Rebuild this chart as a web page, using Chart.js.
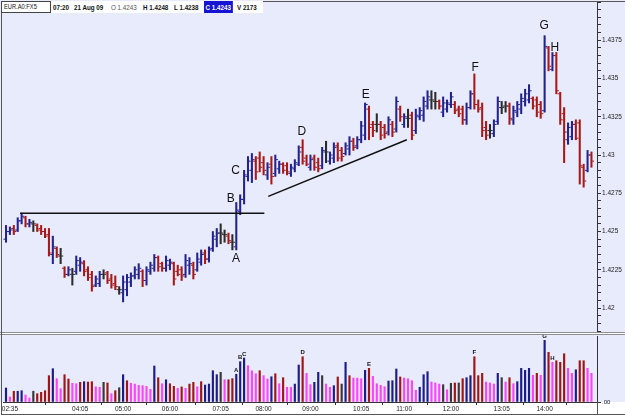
<!DOCTYPE html>
<html>
<head>
<meta charset="utf-8">
<script src="https://cdn.jsdelivr.net/npm/chart.js@4.4.1/dist/chart.umd.min.js"></script>
<style>
  html, body { margin: 0; padding: 0; background: #fff; }
  #wrap { position: relative; width: 625px; height: 416px; overflow: hidden; }
  #priceCanvas { position: absolute; left: 0; top: 0; background: #e8ebfb; }
  #volCanvas { position: absolute; left: 0; top: 335px; background: linear-gradient(#e8ebfb 0, #e8ebfb 67px, #fff 67px); }
  .sep { position: absolute; left: 0; width: 625px; height: 1px; background: #8e8e8e; }
  .frame { position: absolute; background: #555; }
  .hdrbg { position: absolute; left: 1px; top: 1px; width: 262px; height: 12px; background: #fff; }
  .sym { position: absolute; left: 1px; top: 1px; width: 48px; height: 10px; border: 1px solid #444; background: #fff; }
  .sym span { position: absolute; left: 2px; top: 0; font: 7px/10px "Liberation Sans", sans-serif; color: #111;
              white-space: nowrap; transform: scaleX(0.82); transform-origin: left center; }
  .ht { position: absolute; top: 3px; font: 8px/9px "Liberation Sans", sans-serif; color: #111; white-space: nowrap;
        transform: scaleX(0.78); transform-origin: left center; }
  .b { font-weight: bold; }
  .n { color: #555; }
  .cl { background: #1414d2; color: #fff; top: 1px; padding: 2px 3px 1px 2px; }
</style>
</head>
<body>
<div id="wrap">
  <canvas id="priceCanvas" width="625" height="332"></canvas>
  <div class="sep" style="top:332px"></div>
  <div class="sep" style="top:334px"></div>
  <canvas id="volCanvas" width="625" height="81"></canvas>
  <div class="frame" style="left:1px; top:1px; width:1px; height:414px"></div>
  <div class="frame" style="left:1px; top:1px; width:624px; height:1px"></div>
  <div class="frame" style="left:1px; top:414px; width:624px; height:1px"></div>
  <div class="frame" style="left:597px; top:402px; width:1px; height:12px"></div>
  <div class="hdrbg"></div>
  <div class="sym"><span>EUR.A0:FX5</span></div>
  <div id="hdr"></div>
</div>
<script>
// 5-minute bars, 02:30 .. 15:00
const times = [];
for (let m = 150; m <= 900; m += 5) {
    times.push(String(Math.floor(m / 60)).padStart(2, '0') + ':' + String(m % 60).padStart(2, '0'));
}

const opens = [1.4245,1.4250,1.4252,1.4251,1.4257,1.4259,1.4255,1.4255,1.4254,1.4252,
1.4250,1.4248,1.4235,1.4239,1.4234,1.4226,1.4222,1.4222,1.4224,1.4228,
1.4229,1.4225,1.4222,1.4215,1.4216,1.4222,1.4223,1.4219,1.4216,1.4212,
1.4210,1.4212,1.4217,1.4221,1.4222,1.4224,1.4218,1.4224,1.4226,1.4233,
1.4229,1.4226,1.4228,1.4229,1.4224,1.4225,1.4222,1.4228,1.4228,1.4225,
1.4230,1.4236,1.4232,1.4239,1.4245,1.4249,1.4248,1.4247,1.4243,1.4240,
1.4263,1.4271,1.4286,1.4290,1.4296,1.4298,1.4295,1.4287,1.4294,1.4288,
1.4291,1.4294,1.4293,1.4288,1.4291,1.4294,1.4305,1.4298,1.4292,1.4298,
1.4295,1.4293,1.4302,1.4296,1.4298,1.4306,1.4303,1.4301,1.4304,1.4309,
1.4306,1.4310,1.4313,1.4330,1.4320,1.4320,1.4320,1.4318,1.4315,1.4320,
1.4317,1.4330,1.4320,1.4324,1.4326,1.4316,1.4325,1.4326,1.4332,1.4336,
1.4335,1.4335,1.4328,1.4330,1.4333,1.4333,1.4330,1.4330,1.4323,1.4331,
1.4340,1.4333,1.4331,1.4318,1.4316,1.4314,1.4322,1.4331,1.4332,1.4332,
1.4323,1.4328,1.4330,1.4335,1.4336,1.4337,1.4336,1.4333,1.4329,1.4370,
1.4356,1.4365,1.4340,1.4327,1.4310,1.4312,1.4320,1.4321,1.4292,1.4290,
1.4300];

const highs = [1.4254,1.4253,1.4254,1.4259,1.4262,1.4260,1.4258,1.4257,1.4255,1.4254,
1.4252,1.4252,1.4247,1.4240,1.4239,1.4227,1.4227,1.4226,1.4234,1.4233,
1.4231,1.4227,1.4224,1.4221,1.4224,1.4225,1.4224,1.4222,1.4221,1.4214,
1.4221,1.4222,1.4223,1.4227,1.4229,1.4225,1.4227,1.4230,1.4235,1.4234,
1.4230,1.4234,1.4232,1.4230,1.4228,1.4227,1.4235,1.4233,1.4230,1.4236,
1.4238,1.4238,1.4240,1.4250,1.4252,1.4255,1.4251,1.4249,1.4248,1.4269,
1.4274,1.4290,1.4299,1.4301,1.4299,1.4302,1.4299,1.4295,1.4299,1.4300,
1.4296,1.4295,1.4295,1.4294,1.4297,1.4306,1.4310,1.4300,1.4300,1.4300,
1.4298,1.4305,1.4309,1.4302,1.4308,1.4308,1.4305,1.4308,1.4312,1.4311,
1.4312,1.4322,1.4334,1.4332,1.4322,1.4327,1.4322,1.4320,1.4325,1.4322,
1.4338,1.4332,1.4327,1.4330,1.4328,1.4330,1.4331,1.4338,1.4342,1.4342,
1.4341,1.4336,1.4338,1.4336,1.4341,1.4335,1.4332,1.4332,1.4334,1.4342,
1.4353,1.4336,1.4334,1.4322,1.4320,1.4323,1.4338,1.4335,1.4335,1.4334,
1.4332,1.4335,1.4340,1.4343,1.4346,1.4338,1.4338,1.4335,1.4378,1.4371,
1.4367,1.4367,1.4341,1.4331,1.4321,1.4322,1.4323,1.4323,1.4294,1.4303,
1.4302];

const lows = [1.4243,1.4248,1.4248,1.4250,1.4255,1.4253,1.4253,1.4250,1.4250,1.4248,
1.4246,1.4234,1.4229,1.4233,1.4229,1.4220,1.4221,1.4215,1.4222,1.4224,
1.4221,1.4218,1.4211,1.4214,1.4214,1.4219,1.4216,1.4213,1.4212,1.4209,
1.4204,1.4208,1.4214,1.4219,1.4219,1.4214,1.4215,1.4222,1.4224,1.4224,
1.4224,1.4224,1.4225,1.4215,1.4221,1.4218,1.4220,1.4222,1.4219,1.4224,
1.4228,1.4229,1.4230,1.4237,1.4240,1.4242,1.4243,1.4242,1.4238,1.4238,
1.4261,1.4268,1.4283,1.4282,1.4284,1.4289,1.4287,1.4284,1.4281,1.4286,
1.4288,1.4288,1.4287,1.4286,1.4289,1.4293,1.4294,1.4293,1.4290,1.4290,
1.4289,1.4291,1.4295,1.4294,1.4295,1.4296,1.4296,1.4300,1.4300,1.4303,
1.4304,1.4308,1.4310,1.4310,1.4312,1.4315,1.4310,1.4311,1.4313,1.4312,
1.4315,1.4322,1.4318,1.4318,1.4310,1.4314,1.4323,1.4322,1.4330,1.4330,
1.4330,1.4330,1.4325,1.4328,1.4331,1.4327,1.4325,1.4320,1.4320,1.4330,
1.4330,1.4328,1.4312,1.4310,1.4311,1.4312,1.4320,1.4327,1.4328,1.4320,
1.4320,1.4325,1.4327,1.4332,1.4334,1.4330,1.4325,1.4324,1.4328,1.4355,
1.4355,1.4340,1.4320,1.4295,1.4307,1.4310,1.4310,1.4281,1.4279,1.4289,
1.4292];

const closes = [1.4250,1.4251,1.4250,1.4257,1.4260,1.4255,1.4256,1.4255,1.4251,1.4250,
1.4247,1.4236,1.4240,1.4235,1.4234,1.4222,1.4225,1.4222,1.4231,1.4230,
1.4224,1.4220,1.4214,1.4219,1.4222,1.4222,1.4218,1.4215,1.4214,1.4212,
1.4217,1.4220,1.4221,1.4225,1.4226,1.4218,1.4225,1.4228,1.4233,1.4227,
1.4226,1.4231,1.4230,1.4219,1.4222,1.4221,1.4231,1.4229,1.4222,1.4232,
1.4235,1.4232,1.4238,1.4247,1.4249,1.4249,1.4248,1.4244,1.4243,1.4264,
1.4271,1.4287,1.4296,1.4297,1.4289,1.4292,1.4290,1.4292,1.4286,1.4297,
1.4294,1.4290,1.4289,1.4292,1.4295,1.4302,1.4296,1.4294,1.4297,1.4292,
1.4291,1.4303,1.4302,1.4300,1.4305,1.4298,1.4299,1.4306,1.4309,1.4305,
1.4310,1.4319,1.4333,1.4318,1.4316,1.4320,1.4313,1.4314,1.4323,1.4315,
1.4335,1.4325,1.4325,1.4324,1.4313,1.4326,1.4329,1.4335,1.4338,1.4336,
1.4335,1.4332,1.4334,1.4334,1.4338,1.4329,1.4327,1.4323,1.4331,1.4340,
1.4333,1.4330,1.4316,1.4313,1.4316,1.4320,1.4335,1.4331,1.4332,1.4324,
1.4329,1.4333,1.4337,1.4340,1.4342,1.4332,1.4328,1.4327,1.4371,1.4358,
1.4365,1.4342,1.4323,1.4315,1.4318,1.4320,1.4311,1.4293,1.4283,1.4300,
1.4296];

const volumes = [1300,470,1000,1000,1050,650,370,1000,770,900,
1050,2450,3100,2170,1240,2540,2140,1740,1700,1830,
1890,1860,1890,1420,1370,1830,1770,770,1050,1330,
2540,1980,1740,1670,1550,1520,1460,1180,3350,2260,
1700,2070,1700,1460,1270,1400,1270,1670,1830,1420,
1890,1580,1670,2910,2540,2760,2070,2070,2173,2580,
3750,4090,3380,2910,2630,2910,2450,2140,2350,2630,
1700,2260,1370,1370,1670,3440,4210,2670,1610,1830,
2760,2450,1670,1370,1520,2330,1670,3690,2450,2230,
2230,2170,2950,3130,2390,1700,1550,1420,1950,1980,
3070,2330,2230,2170,1980,1090,1370,2540,2820,1860,
1770,1670,1610,1140,1740,1770,1770,2170,2260,2450,
4210,2450,2670,1860,1770,1670,2670,2260,1860,2260,
1700,1890,3130,2950,3130,2480,2670,2480,5740,4620,
3690,3840,3690,4490,3130,2670,3000,3840,3840,3130,
2670];

// volume bar tone per bar: b blue, r red, m magenta, k black
const volTone = "bmrbbmmkrr" + "rrbmmrrmmr" + "brrmmkrmrk" + "brmmmmmmbr" + "mbrrmrmrrm" +
                "rbbbbkmrrb" + "bbmmmrmmbr" + "mrmmbbrmmb" + "bkmmbrkbrm" + "mmbrmmmmbb" +
                "brmmmmbbbm" + "mmkmkrkrbb" + "rrrmmmbkmr" + "mbbbbmrmbr" + "mrrrmmbrrm" + "m";

const timeTicks = ['02:35', '04:05', '05:00', '06:00', '07:05', '08:00', '09:00', '10:05', '11:00', '12:00', '13:05', '14:00'];
const priceTicks = ['1.42', '1.4225', '1.425', '1.4275', '1.43', '1.4325', '1.435', '1.4375'];
const volTickLabel = '.00';
const headerTime = '07:20';

// annotations, in (bar index, price)
const trendLines = [
    { from: [3.6, 1.4262], to: [66.2, 1.4262] },
    { from: [67.2, 1.4273], to: [102.7, 1.4310] }
];
const priceMarks = [['A', 58.9, 1.42325], ['B', 57.6, 1.42717], ['C', 58.8, 1.42900], ['D', 75.8, 1.43155],
                    ['E', 92.2, 1.43397], ['F', 120.2, 1.43573], ['G', 137.9, 1.43848], ['H', 140.6, 1.43704]];
const volMarks = [['A', 59], ['B', 60], ['C', 61], ['D', 76], ['E', 93], ['F', 120], ['G', 138], ['H', 140]];

const X_MIN = -0.77, X_MAX = 151.42;
const FONT = '"Liberation Sans", Arial, sans-serif';
const UP = '#23238f', DOWN = '#a81818', FLAT = '#2b2b2b';
const TONES = { b: '#1c1c88', r: '#a01414', m: '#ff44ff', k: '#383838' };

function barColor(i) {
    if (closes[i] > opens[i]) return UP;
    if (closes[i] < opens[i]) return DOWN;
    return FLAT;
}

// header line for the 07:20 bar
(function () {
    const i = times.indexOf(headerTime);
    const items = [
        [53, 'ht b', headerTime],
        [74, 'ht b', '21 Aug 09'],
        [111, 'ht n', 'O ' + opens[i].toFixed(4)],
        [143, 'ht b', 'H ' + highs[i].toFixed(4)],
        [174, 'ht b', 'L ' + lows[i].toFixed(4)],
        [204, 'ht b cl', 'C ' + closes[i].toFixed(4)],
        [237, 'ht b', 'V ' + volumes[i]]
    ];
    document.getElementById('hdr').innerHTML = items.map(it =>
        `<span class="${it[1]}" style="left:${it[0]}px">${it[2]}</span>`).join('');
})();

const ohlcTicks = {
    id: 'ohlcTicks',
    afterDatasetsDraw(chart) {
        const y = chart.scales.y;
        const ctx = chart.ctx;
        ctx.save();
        chart.getDatasetMeta(0).data.forEach((bar, i) => {
            ctx.fillStyle = barColor(i);
            ctx.fillRect(bar.x - 2.6, y.getPixelForValue(opens[i]) - 0.5, 1.9, 1);
            ctx.fillRect(bar.x + 0.7, y.getPixelForValue(closes[i]) - 0.5, 1.9, 1);
        });
        ctx.restore();
    }
};

const priceNotes = {
    id: 'priceNotes',
    afterDatasetsDraw(chart) {
        const { x, y } = chart.scales;
        const ctx = chart.ctx;
        ctx.save();
        ctx.strokeStyle = '#111';
        ctx.lineWidth = 1.5;
        trendLines.forEach(l => {
            ctx.beginPath();
            ctx.moveTo(x.getPixelForValue(l.from[0]), y.getPixelForValue(l.from[1]));
            ctx.lineTo(x.getPixelForValue(l.to[0]), y.getPixelForValue(l.to[1]));
            ctx.stroke();
        });
        ctx.fillStyle = '#111';
        ctx.font = '12px ' + FONT;
        ctx.textAlign = 'center';
        ctx.textBaseline = 'middle';
        priceMarks.forEach(m => ctx.fillText(m[0], x.getPixelForValue(m[1]), y.getPixelForValue(m[2])));
        ctx.restore();
    }
};

const volNotes = {
    id: 'volNotes',
    afterDatasetsDraw(chart) {
        const { x, y } = chart.scales;
        const ctx = chart.ctx;
        ctx.save();
        ctx.fillStyle = '#111';
        ctx.font = 'bold 6px ' + FONT;
        ctx.textAlign = 'center';
        ctx.textBaseline = 'bottom';
        volMarks.forEach(m => ctx.fillText(m[0], x.getPixelForValue(m[1]), y.getPixelForValue(volumes[m[1]]) - 1));
        ctx.restore();
    }
};

const tickFont = { family: FONT, size: 6.5 };

new Chart(document.getElementById('priceCanvas'), {
    type: 'bar',
    data: {
        datasets: [{
            data: times.map((t, i) => ({ x: i, y: [lows[i], highs[i]] })),
            backgroundColor: times.map((t, i) => barColor(i)),
            borderWidth: 0,
            barThickness: 1.4
        }]
    },
    options: {
        responsive: false,
        animation: false,
        events: [],
        layout: { padding: { left: 3, top: 2, right: 0, bottom: 1 } },
        plugins: { legend: { display: false }, tooltip: { enabled: false } },
        scales: {
            x: { type: 'linear', display: false, min: X_MIN, max: X_MAX, offset: false },
            y: {
                position: 'right',
                min: 1.4185,
                max: 1.44,
                ticks: {
                    stepSize: 0.0005,
                    maxTicksLimit: 50,
                    autoSkip: false,
                    font: tickFont,
                    color: '#222',
                    padding: 1,
                    callback: v => {
                        const t = priceTicks.find(s => Math.abs(parseFloat(s) - v) < 1e-7);
                        return t === undefined ? '' : t;
                    }
                },
                grid: { drawOnChartArea: false, tickLength: 4, color: '#333' },
                border: { color: '#333' },
                afterFit(axis) { axis.width = 28; axis.paddingTop = 0; axis.paddingBottom = 0; }
            }
        }
    },
    plugins: [ohlcTicks, priceNotes]
});

new Chart(document.getElementById('volCanvas'), {
    type: 'bar',
    data: {
        datasets: [{
            data: volumes.map((v, i) => ({ x: i, y: v })),
            backgroundColor: times.map((t, i) => TONES[volTone[i]]),
            borderWidth: 0,
            barThickness: 1.5
        }]
    },
    options: {
        responsive: false,
        animation: false,
        events: [],
        layout: { padding: { left: 3, top: 1, right: 0, bottom: 2 } },
        plugins: { legend: { display: false }, tooltip: { enabled: false } },
        scales: {
            x: {
                type: 'linear',
                min: X_MIN,
                max: X_MAX,
                offset: false,
                afterBuildTicks(axis) { axis.ticks = timeTicks.map(t => ({ value: times.indexOf(t) })); },
                ticks: { autoSkip: false, maxRotation: 0, font: tickFont, color: '#222', padding: 0, callback: v => times[v] },
                grid: { drawOnChartArea: false, tickLength: 3, color: '#333' },
                border: { color: '#333' },
                afterFit(axis) { axis.height = 12; axis.paddingLeft = 0; axis.paddingRight = 0; }
            },
            y: {
                position: 'right',
                min: 0,
                max: 6140,
                afterBuildTicks(axis) { axis.ticks = [{ value: 0 }]; },
                ticks: { font: { family: FONT, size: 6 }, color: '#222', padding: 1, callback: () => volTickLabel },
                grid: { drawOnChartArea: false, tickLength: 4, color: '#333' },
                border: { color: '#333' },
                afterFit(axis) { axis.width = 28; axis.paddingTop = 0; axis.paddingBottom = 0; }
            }
        }
    },
    plugins: [volNotes]
});
</script>
</body>
</html>
